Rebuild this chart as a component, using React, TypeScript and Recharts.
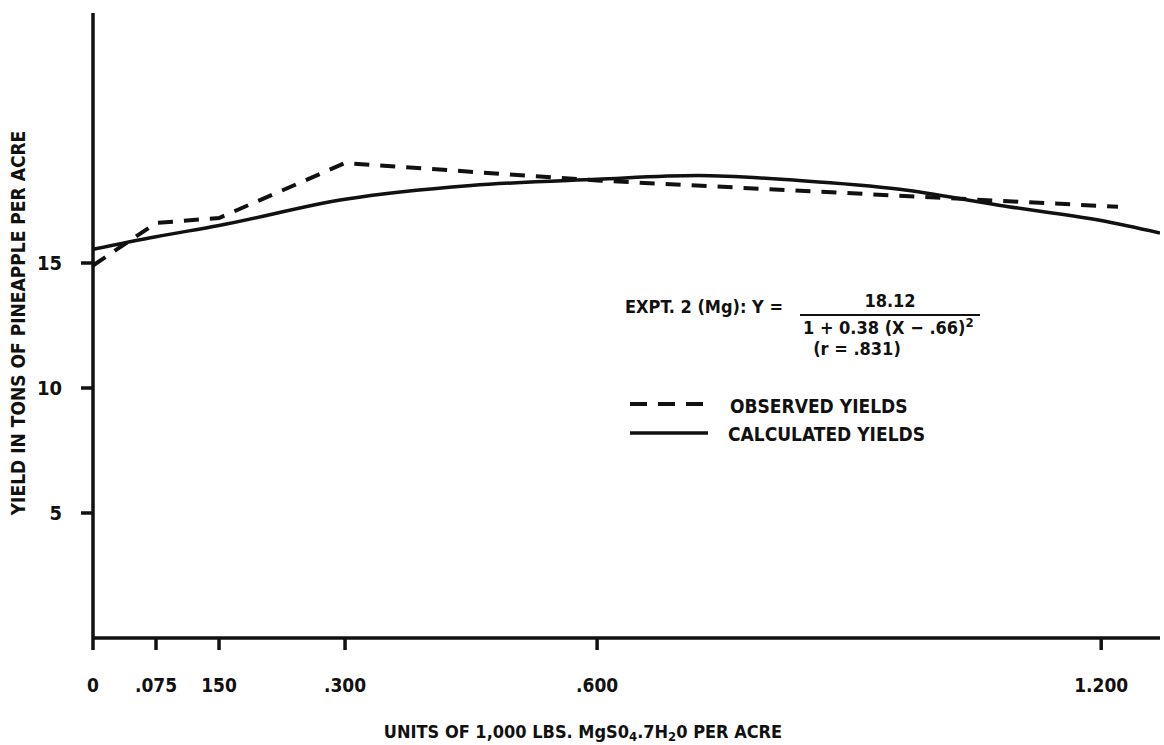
import { Line, LineChart, XAxis, YAxis } from "recharts";

// observed yields (dashed) and fitted curve (solid), tons/acre
const OBS_X = [0, 0.075, 0.15, 0.3, 0.6, 1.22];
const OBS_Y = [14.9, 16.6, 16.8, 19.0, 18.3, 17.25];
const CALC_X = [0, 0.075, 0.15, 0.3, 0.45, 0.6, 0.72, 0.84, 0.96, 1.08, 1.2, 1.27];
const CALC_Y = [15.55, 16.05, 16.5, 17.55, 18.1, 18.35, 18.5, 18.3, 17.95, 17.3, 16.7, 16.2];

const X_TICKS = [0, 0.075, 0.15, 0.3, 0.6, 1.2];
const X_TICK_LABELS = ["0", ".075", "150", ".300", ".600", "1.200"];
const Y_TICKS = [5, 10, 15];

const FONT = "'Liberation Sans Narrow', 'DejaVu Sans Condensed', Roboto, sans-serif";
const INK = "#111";

const observed = OBS_X.map((x, i) => ({ x, y: OBS_Y[i] }));
const calculated = CALC_X.map((x, i) => ({ x, y: CALC_Y[i] }));

const txt = { fontFamily: FONT, fontWeight: 700, fill: INK } as const;

function XTick({ x, y, payload }: any) {
  const i = X_TICKS.indexOf(payload.value);
  return (
    <text x={x} y={y} dy={33} textAnchor="middle" dominantBaseline="central" fontSize={19} {...txt}>
      {X_TICK_LABELS[i]}
    </text>
  );
}

function YTick({ x, y, payload }: any) {
  return (
    <text x={x} y={y} dx={-17} textAnchor="end" dominantBaseline="central" fontSize={20} {...txt}>
      {payload.value}
    </text>
  );
}

function Notes() {
  return (
    <svg width={1164} height={745} style={{ position: "absolute", left: 0, top: 0, pointerEvents: "none" }}>
      <text transform="translate(18,323) rotate(-90)" textAnchor="middle" dominantBaseline="central" fontSize={19} {...txt}>
        YIELD IN TONS OF PINEAPPLE PER ACRE
      </text>
      <text x={583} y={731} textAnchor="middle" dominantBaseline="central" fontSize={18} {...txt}>
        UNITS OF 1,000 LBS. MgS0<tspan dy={5} fontSize={13}>4</tspan>
        <tspan dy={-5}>.7H</tspan><tspan dy={5} fontSize={13}>2</tspan>
        <tspan dy={-5}>0 PER ACRE</tspan>
      </text>

      <text x={625} y={306} dominantBaseline="central" fontSize={18} {...txt}>EXPT. 2 (Mg): Y =</text>
      <text x={890} y={300} textAnchor="middle" dominantBaseline="central" fontSize={18} {...txt}>18.12</text>
      <line x1={800} x2={980} y1={315} y2={315} stroke={INK} strokeWidth={2} />
      <text x={803} y={327} dominantBaseline="central" fontSize={18} {...txt}>
        1 + 0.38 (X − .66)<tspan dy={-5} fontSize={13}>2</tspan>
      </text>
      <text x={857} y={348} textAnchor="middle" dominantBaseline="central" fontSize={18} {...txt}>(r = .831)</text>

      <line x1={630} x2={705} y1={404} y2={404} stroke={INK} strokeWidth={4} strokeDasharray="17 11" />
      <text x={730} y={406} dominantBaseline="central" fontSize={19} {...txt}>OBSERVED YIELDS</text>
      <line x1={630} x2={708} y1={433} y2={433} stroke={INK} strokeWidth={3.5} />
      <text x={728} y={434} dominantBaseline="central" fontSize={19} {...txt}>CALCULATED YIELDS</text>
    </svg>
  );
}

export default function App() {
  return (
    <div style={{ position: "absolute", left: 0, top: 0, width: 1164, height: 745, background: "#fff" }}>
      <LineChart width={1164} height={745} margin={{ top: 13, right: 4, bottom: 77, left: 0 }}>
        <XAxis
          type="number" dataKey="x" domain={[0, 1.27]} ticks={X_TICKS} tick={<XTick />}
          tickSize={12} axisLine={{ stroke: INK, strokeWidth: 3.5 }} tickLine={{ stroke: INK, strokeWidth: 3.5 }}
          allowDataOverflow
        />
        <YAxis
          type="number" domain={[0, 25]} ticks={Y_TICKS} tick={<YTick />} width={93}
          tickSize={12} axisLine={{ stroke: INK, strokeWidth: 3.5 }} tickLine={{ stroke: INK, strokeWidth: 3.5 }}
        />
        <Line data={observed} dataKey="y" type="linear" stroke={INK} strokeWidth={4}
          strokeDasharray="15 11" dot={false} isAnimationActive={false} />
        <Line data={calculated} dataKey="y" type="monotone" stroke={INK} strokeWidth={3.5}
          dot={false} isAnimationActive={false} />
      </LineChart>
      <Notes />
    </div>
  );
}
